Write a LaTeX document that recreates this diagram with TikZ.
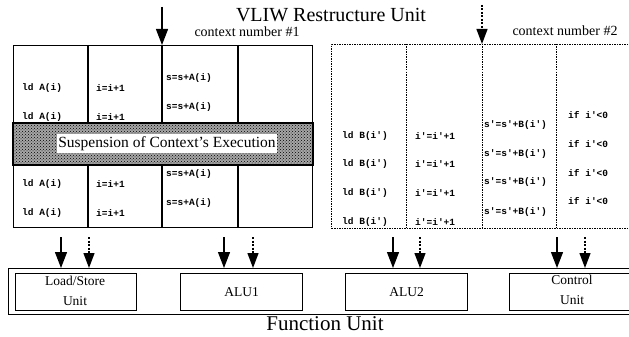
\documentclass[tikz,border=0pt]{standalone}
\usepackage{fontspec}
\setmainfont{Liberation Serif}
\newfontfamily\codefont{Liberation Mono}
\usetikzlibrary{patterns,arrows.meta}
\begin{document}
\begin{tikzpicture}[x=1pt,y=-1pt,
  box/.style={draw,line width=1.3pt,inner sep=0pt,anchor=north west},
  dbox/.style={draw,line width=1pt,dash pattern=on 1.5pt off 1pt,inner sep=0pt,anchor=north west},
  gridline/.style={line width=1.3pt},
  dgridline/.style={line width=1pt,dash pattern=on 1.5pt off 1pt},
  code/.style={font=\codefont\bfseries\fontsize{9.5}{10}\selectfont,anchor=west,inner sep=0pt},
  unitbox/.style={draw,line width=1.1pt,inner sep=0pt,anchor=north west,minimum height=37pt},
  unitlbl/.style={font=\fontsize{13.5}{20}\selectfont,align=center,inner sep=0pt},
  solidarrow/.style={line width=1.3pt,-{Triangle[length=16pt,width=12pt]}},
  dasharrow/.style={line width=1.3pt,dash pattern=on 2pt off 1.5pt,-{Triangle[length=15pt,width=11pt]}},
]
\useasboundingbox (0,0) rectangle (629,337);
\clip (0,0) rectangle (629,337);

% titles
\node[anchor=base,font=\fontsize{20}{22}\selectfont,inner sep=0pt] (title) at (331,22) {VLIW Restructure Unit};
\node[anchor=base,font=\fontsize{14}{16}\selectfont,inner sep=0pt] (c1lbl) at (247,37) {context number \#1};
\node[anchor=base,font=\fontsize{14}{16}\selectfont,inner sep=0pt] (c2lbl) at (565,36) {context number \#2};

% context 1
\node[box,minimum width=299pt,minimum height=182pt] (ctx1) at (13,45) {};
\foreach \x in {88,162,238} \draw[gridline] (\x,45) -- (\x,227);
\node[box,minimum width=299pt,minimum height=41pt,fill=gray!70] (band) at (13,123) {};
\fill[pattern=crosshatch dots,pattern color=black] (band.north west) rectangle (band.south east);
\draw[line width=1.3pt] (band.north west) rectangle (band.south east);
\node[fill=white,inner sep=0pt,minimum width=220pt,minimum height=19pt,font=\fontsize{15.5}{17}\selectfont] (susp) at (167,143.5) {Suspension of Context's Execution};

\node[code] (a1) at (22,88) {ld A(i)};
\node[code] (a2) at (22,117) {ld A(i)};
\node[code] (a3) at (22,184) {ld A(i)};
\node[code] (a4) at (22,213) {ld A(i)};
\node[code] (b1) at (96,88) {i=i+1};
\node[code] (b2) at (96,117) {i=i+1};
\node[code] (b3) at (96,184) {i=i+1};
\node[code] (b4) at (96,213) {i=i+1};
\node[code] (s1) at (166,78) {s=s+A(i)};
\node[code] (s2) at (166,107) {s=s+A(i)};
\node[code] (s3) at (166,174) {s=s+A(i)};
\node[code] (s4) at (166,203) {s=s+A(i)};

% context 2
\node[dbox,minimum width=320pt,minimum height=184pt] (ctx2) at (331,44) {};
\foreach \x in {406,482,556} \draw[dgridline] (\x,44) -- (\x,228);
\node[code] (d1) at (342,136) {ld B(i')};
\node[code] (d2) at (342,164) {ld B(i')};
\node[code] (d3) at (342,193) {ld B(i')};
\node[code] (d4) at (342,222) {ld B(i')};
\node[code] (e1) at (415,136) {i'=i'+1};
\node[code] (e2) at (415,164) {i'=i'+1};
\node[code] (e3) at (415,193) {i'=i'+1};
\node[code] (e4) at (415,222) {i'=i'+1};
\node[code] (f1) at (484,125) {s'=s'+B(i')};
\node[code] (f2) at (484,154) {s'=s'+B(i')};
\node[code] (f3) at (484,182) {s'=s'+B(i')};
\node[code] (f4) at (484,212) {s'=s'+B(i')};
\node[code] (g1) at (568,115) {if i'<0};
\node[code] (g2) at (568,144) {if i'<0};
\node[code] (g3) at (568,173) {if i'<0};
\node[code] (g4) at (568,201) {if i'<0};

% top arrows
\coordinate (t1) at (162,7);
\coordinate (t2) at (482,5);
\draw[solidarrow] (t1) -- (t1 |- ctx1.north);
\draw[dasharrow] (t2) -- (t2 |- ctx2.north);

% function unit
\node[box,line width=1.1pt,minimum width=640pt,minimum height=46pt] (fu) at (8,268) {};
\node[unitbox,minimum width=121pt] (ls) at (15,273) {};
\node[unitbox,minimum width=122pt] (alu1) at (180,273) {};
\node[unitbox,minimum width=122pt] (alu2) at (345,273) {};
\node[unitbox,minimum width=140pt] (ctrl) at (509,273) {};
\node[unitlbl] (lslbl) at (75,291) {Load/Store\\Unit};
\node[unitlbl] (alu1lbl) at (alu1.center) {ALU1};
\node[unitlbl] (alu2lbl) at (alu2.center) {ALU2};
\node[unitlbl] (ctrllbl) at (572,290) {Control\\Unit};
\node[anchor=base,font=\fontsize{21}{23}\selectfont,inner sep=0pt] (fulbl) at (325,330) {Function Unit};

% bottom arrows
\foreach \x/\n in {61/p1,224/p2,393/p3,557/p4} {
  \coordinate (\n) at (\x,237);
  \draw[solidarrow] (\n) -- (\n |- fu.north);
}
\foreach \x/\n in {89/q1,253/q2,420/q3,585/q4} {
  \coordinate (\n) at (\x,237);
  \draw[dasharrow] (\n) -- (\n |- fu.north);
}
\end{tikzpicture}
\end{document}
